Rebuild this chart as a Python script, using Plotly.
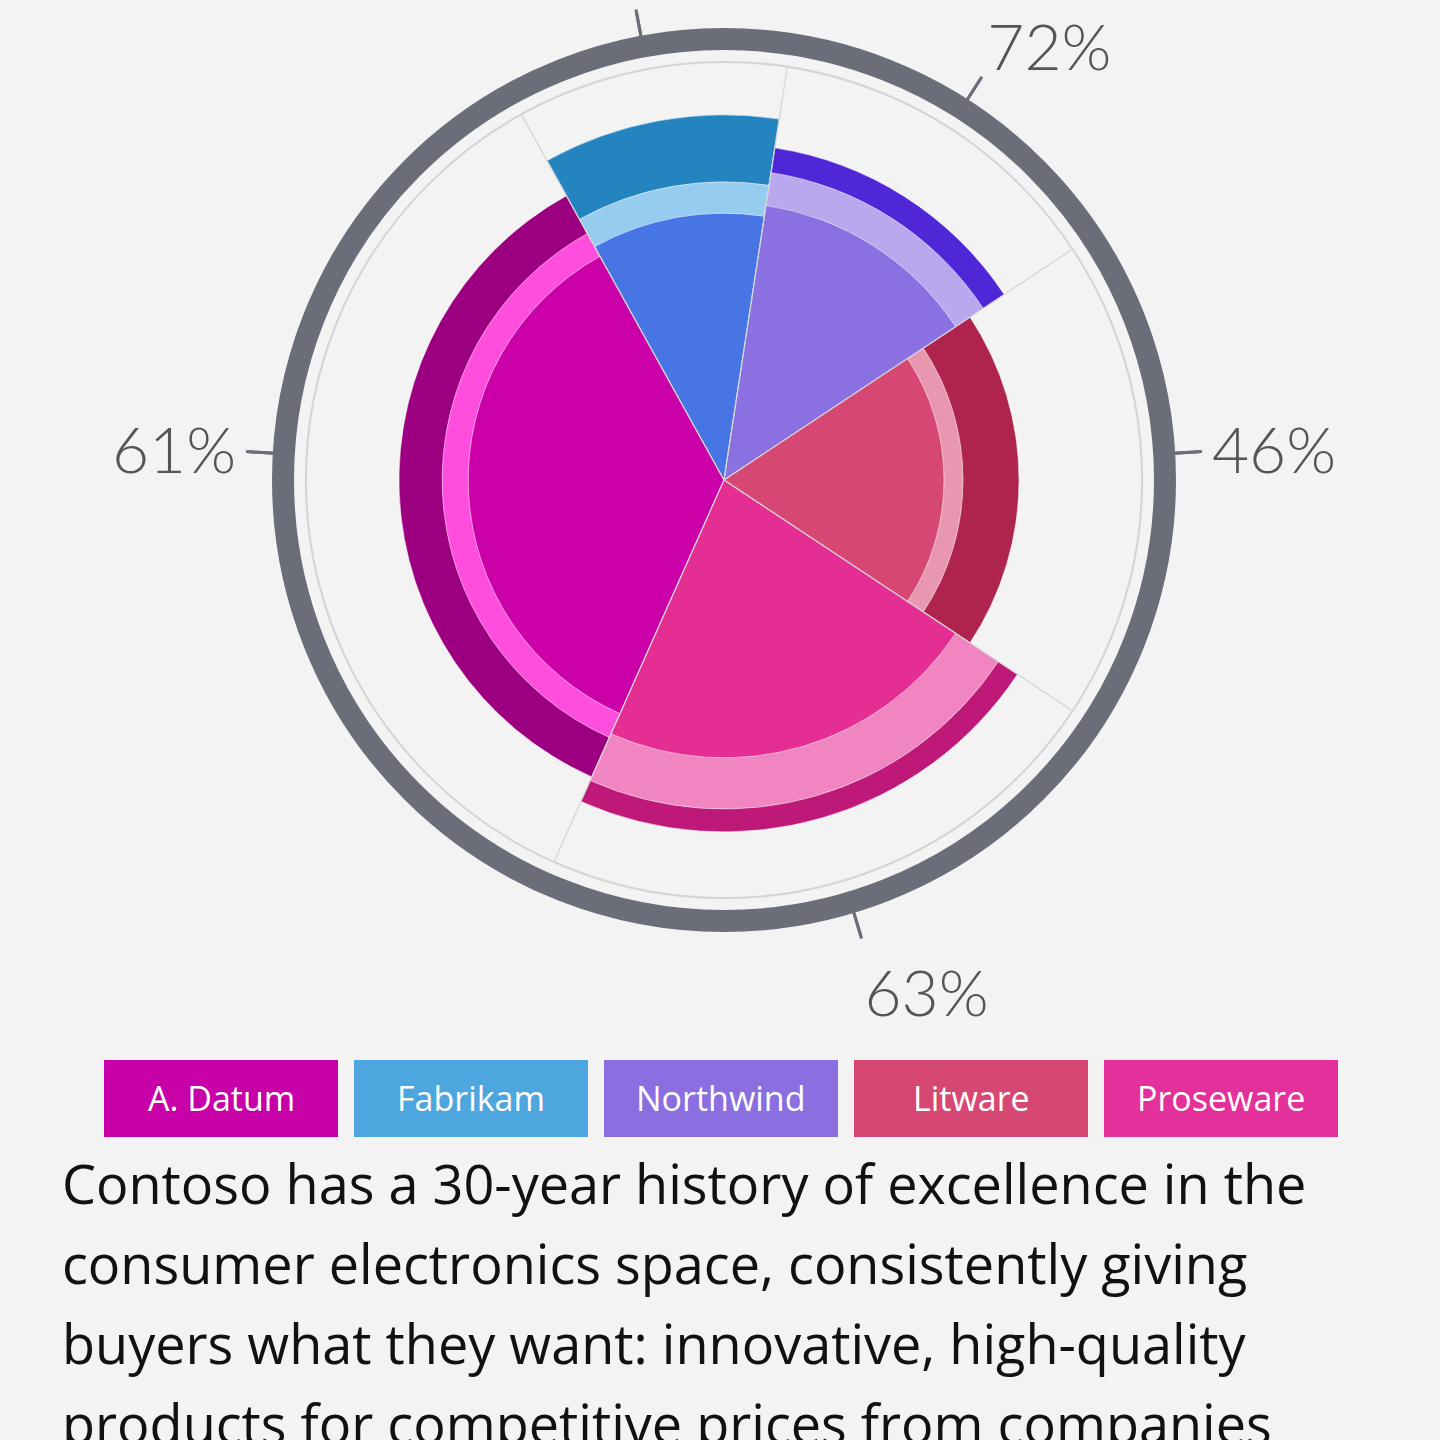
import plotly.graph_objects as go

# Data
companies = ["A. Datum", "Fabrikam", "Northwind", "Litware", "Proseware"]
theta_center = [182.5, 100.15, 57.4, 0.0, 286.25]
sector_width = [127.0, 37.7, 47.8, 67.0, 80.5]
inner_r = [58.0, 60.5, 63.0, 49.9, 63.0]
middle_r = [63.9, 67.6, 70.5, 54.2, 74.6]
outer_r = [73.7, 82.8, 76.2, 66.9, 79.8]

label_theta = [176.6, 100.6, 57.4, 3.4, 286.7]
label_text = ["61%", "85%", "72%", "46%", "63%"]

paragraph = [
    "Contoso has a 30-year history of excellence in the",
    "consumer electronics space, consistently giving",
    "buyers what they want: innovative, high-quality",
    "products for competitive prices from companies",
]

# Colors per company: main, light ring, dark ring, legend box
main_colors = ["#CC00A8", "#4775E3", "#8A70E0", "#D64873", "#E42E94"]
light_colors = ["#FF4EDD", "#96CCEF", "#BAA8EE", "#E996B0", "#F085C1"]
dark_colors = ["#9C0080", "#2384BF", "#4F27D6", "#AF244E", "#BE1878"]
legend_colors = ["#C800A8", "#4EA6DE", "#8B6FE0", "#D64873", "#E4309A"]

bg = "#F3F3F3"
ring = "#6B6E78"
grid_r = 94.8

fig = go.Figure()

# sector boundary lines (under the bars)
bounds = [c - w / 2 for c, w in zip(theta_center, sector_width)]
line_r, line_t = [], []
for b in bounds:
    line_r += [0, grid_r, None]
    line_t += [b, b, None]
fig.add_trace(go.Scatterpolar(
    r=line_r, theta=line_t, mode="lines",
    line=dict(color="#D4D4D4", width=1.2),
    hoverinfo="skip", showlegend=False
))

for r_vals, cols in [(outer_r, dark_colors), (middle_r, light_colors), (inner_r, main_colors)]:
    fig.add_trace(go.Barpolar(
        r=r_vals,
        theta=theta_center,
        width=sector_width,
        marker=dict(color=cols, line=dict(color="rgba(255,255,255,0.55)", width=1)),
        text=companies,
        hoverinfo="text",
        showlegend=False
    ))

# long tick marks on a second, slightly larger polar (radius 479px vs 441px)
tk_r, tk_t = [], []
for t in label_theta:
    tk_r += [441 / 479 * 100, 100, None]
    tk_t += [t, t, None]
fig.add_trace(go.Scatterpolar(
    r=tk_r, theta=tk_t, mode="lines", subplot="polar2",
    line=dict(color=ring, width=3),
    hoverinfo="skip", showlegend=False
))

# legend boxes + paragraph
shapes = []
annotations = []
for i, name in enumerate(companies):
    x0 = 104 + i * 250
    shapes.append(dict(
        type="rect", xref="paper", yref="paper",
        x0=x0 / 1440, x1=(x0 + 234) / 1440,
        y0=1 - 1137 / 1440, y1=1 - 1060 / 1440,
        fillcolor=legend_colors[i], line=dict(width=0)
    ))
    annotations.append(dict(
        text=name, xref="paper", yref="paper",
        x=(x0 + 117) / 1440, y=1 - 1098 / 1440,
        showarrow=False, xanchor="center", yanchor="middle",
        font=dict(family="Open Sans", size=34, color="white")
    ))

for i, line in enumerate(paragraph):
    annotations.append(dict(
        text=line, xref="paper", yref="paper",
        x=60 / 1440, y=1 - (1183 + 80 * i) / 1440,
        showarrow=False, xanchor="left", yanchor="middle",
        font=dict(family="Open Sans", size=54, color="#111111")
    ))

fig.update_layout(
    width=1440, height=1440,
    margin=dict(l=0, r=0, t=0, b=0),
    paper_bgcolor=bg,
    plot_bgcolor=bg,
    showlegend=False,
    shapes=shapes,
    annotations=annotations,
    polar=dict(
        domain=dict(x=[283 / 1440, 1165 / 1440], y=[519 / 1440, 1401 / 1440]),
        bgcolor=bg,
        barmode="overlay",
        bargap=0,
        radialaxis=dict(
            range=[0, 100], tickvals=[grid_r], showticklabels=False, ticks="",
            showline=False, showgrid=True, gridcolor="#D4D4D4", gridwidth=1.5
        ),
        angularaxis=dict(
            direction="counterclockwise", rotation=0, thetaunit="degrees",
            tickvals=label_theta, ticktext=label_text,
            ticks="outside", ticklen=24, tickwidth=3, tickcolor=ring,
            showline=True, linewidth=22, linecolor=ring,
            showgrid=False,
            tickfont=dict(family="Lato", size=64, color="#555555", weight=300)
        )
    ),
    polar2=dict(
        domain=dict(x=[245 / 1440, 1203 / 1440], y=[481 / 1440, 1439 / 1440]),
        bgcolor="rgba(0,0,0,0)",
        radialaxis=dict(range=[0, 100], visible=False),
        angularaxis=dict(visible=False, direction="counterclockwise",
                         rotation=0, thetaunit="degrees")
    )
)

fig.write_html("out.html", config={"displayModeBar": False},
               post_script="document.body.style.margin='0';")
